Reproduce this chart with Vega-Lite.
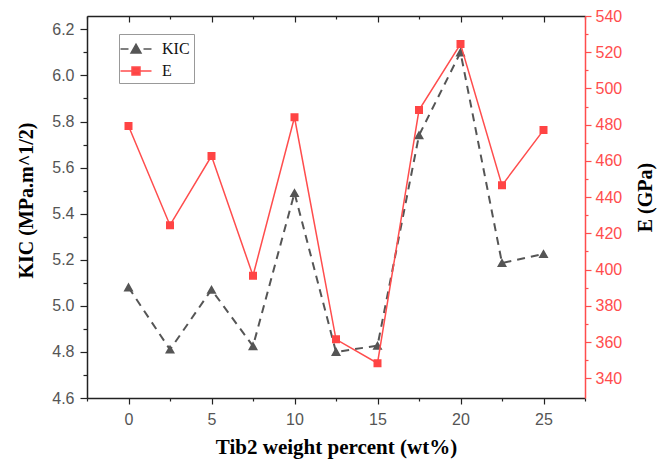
{
  "$schema": "https://vega.github.io/schema/vega-lite/v6.json",
  "width": 498,
  "height": 382,
  "autosize": {"type": "none"},
  "padding": {"left": 87, "top": 16, "right": 84, "bottom": 61},
  "background": "white",
  "config": {
    "view": {"stroke": null},
    "axis": {
      "labelFont": "Liberation Sans",
      "labelFontSize": 16,
      "labelColor": "#555555",
      "titleFont": "Liberation Serif",
      "titleFontSize": 20,
      "titleFontWeight": "bold",
      "titleColor": "#000000",
      "domainColor": "#222222",
      "tickColor": "#222222",
      "domainWidth": 1.5,
      "tickWidth": 1.2,
      "grid": false
    }
  },
  "data": {
    "values": [
      {"wt": 0, "KIC": 5.08, "E": 479.3},
      {"wt": 2.5, "KIC": 4.81, "E": 424.5},
      {"wt": 5, "KIC": 5.07, "E": 462.7},
      {"wt": 7.5, "KIC": 4.825, "E": 396.6},
      {"wt": 10, "KIC": 5.49, "E": 484.1},
      {"wt": 12.5, "KIC": 4.80, "E": 361.5},
      {"wt": 15, "KIC": 4.827, "E": 348.3},
      {"wt": 17.5, "KIC": 5.74, "E": 488.1},
      {"wt": 20, "KIC": 6.10, "E": 524.5},
      {"wt": 22.5, "KIC": 5.186, "E": 446.5},
      {"wt": 25, "KIC": 5.225, "E": 477}
    ]
  },
  "layer": [
    {
      "encoding": {
        "x": {
          "field": "wt",
          "type": "quantitative",
          "scale": {"domain": [-2.5, 27.5], "nice": false, "zero": false},
          "axis": {
            "orient": "bottom",
            "title": "Tib2 weight percent (wt%)",
            "titleFontSize": 21,
            "values": [-2.5, 0, 2.5, 5, 7.5, 10, 12.5, 15, 17.5, 20, 22.5, 25, 27.5],
            "labelExpr": "datum.value % 5 === 0 ? datum.label : ''",
            "tickSize": {"condition": {"test": "datum.value % 5 !== 0", "value": 3}, "value": 6},
            "labelPadding": 7,
            "titlePadding": 9
          }
        },
        "y": {
          "field": "KIC",
          "type": "quantitative",
          "scale": {"domain": [4.6, 6.258], "nice": false, "zero": false},
          "axis": {
            "orient": "left",
            "title": "KIC (MPa.m^1/2)",
            "titleFontSize": 20,
            "titleY": 184,
            "values": [4.6, 4.7, 4.8, 4.9, 5.0, 5.1, 5.2, 5.3, 5.4, 5.5, 5.6, 5.7, 5.8, 5.9, 6.0, 6.1, 6.2],
            "labelExpr": "round(datum.value * 10) % 2 === 0 ? format(datum.value, '.1f') : ''",
            "tickSize": {"condition": {"test": "round(datum.value * 10) % 2 !== 0", "value": 4}, "value": 7},
            "labelPadding": 6,
            "titlePadding": 15
          }
        }
      },
      "layer": [
        {"mark": {"type": "line", "color": "#555555", "strokeDash": [8, 6], "strokeWidth": 2}},
        {
          "mark": {"type": "point", "filled": true, "size": 400, "strokeWidth": 0, "opacity": 1},
          "encoding": {
            "shape": {
              "datum": "KIC",
              "scale": {
                "domain": ["KIC", "E"],
                "range": [
                  "M-1.55,0H-0.75M0.75,0H1.55M-0.5,0.4L0,-0.48L0.5,0.4Z",
                  "M-1.55,0H1.55M-0.4,-0.4H0.4V0.4H-0.4Z"
                ]
              }
            },
            "fill": {
              "datum": "KIC",
              "scale": {"domain": ["KIC", "E"], "range": ["#555555", "#ff4444"]},
              "legend": {
                "title": null,
                "orient": "none",
                "legendX": 32,
                "legendY": 18,
                "strokeColor": "#999999",
                "fillColor": "white",
                "padding": 4,
                "labelFont": "Liberation Serif",
                "labelFontSize": 16,
                "labelColor": "#111111",
                "symbolSize": 400,
                "symbolStrokeWidth": 1.5,
                "symbolOffset": 2,
                "labelOffset": 15,
                "rowPadding": 3
              }
            },
            "stroke": {
              "datum": "KIC",
              "scale": {"domain": ["KIC", "E"], "range": ["#555555", "#ff4d4d"]}
            }
          }
        }
      ]
    },
    {
      "encoding": {
        "x": {"field": "wt", "type": "quantitative", "axis": null},
        "y": {
          "field": "E",
          "type": "quantitative",
          "scale": {"domain": [329.1, 540], "nice": false, "zero": false},
          "axis": {
            "orient": "right",
            "title": "E (GPa)",
            "titleAngle": 270,
            "titleBaseline": "top",
            "titleY": 181,
            "values": [340, 350, 360, 370, 380, 390, 400, 410, 420, 430, 440, 450, 460, 470, 480, 490, 500, 510, 520, 530, 540],
            "labelExpr": "datum.value % 20 === 0 ? datum.label : ''",
            "tickSize": {"condition": {"test": "datum.value % 20 !== 0", "value": 3}, "value": 6},
            "labelColor": "#ff4d4d",
            "domainColor": "#ff4d4d",
            "tickColor": "#ff4d4d",
            "labelPadding": 4,
            "titlePadding": 14
          }
        }
      },
      "layer": [
        {"mark": {"type": "line", "color": "#ff4d4d", "strokeWidth": 1.5}},
        {
          "mark": {"type": "point", "filled": true, "size": 400, "strokeWidth": 0, "opacity": 1},
          "encoding": {
            "shape": {"datum": "E"},
            "fill": {"datum": "E"},
            "stroke": {"datum": "E"}
          }
        }
      ]
    },
    {
      "mark": {"type": "point", "opacity": 0},
      "encoding": {
        "x": {
          "field": "wt",
          "type": "quantitative",
          "axis": {
            "orient": "top",
            "title": null,
            "labels": false,
            "values": [-2.5, 0, 2.5, 5, 7.5, 10, 12.5, 15, 17.5, 20, 22.5, 25, 27.5],
            "tickSize": {"condition": {"test": "datum.value % 5 !== 0", "value": -3}, "value": -6}
          }
        }
      }
    }
  ],
  "resolve": {"scale": {"y": "independent"}, "axis": {"x": "independent"}}
}
